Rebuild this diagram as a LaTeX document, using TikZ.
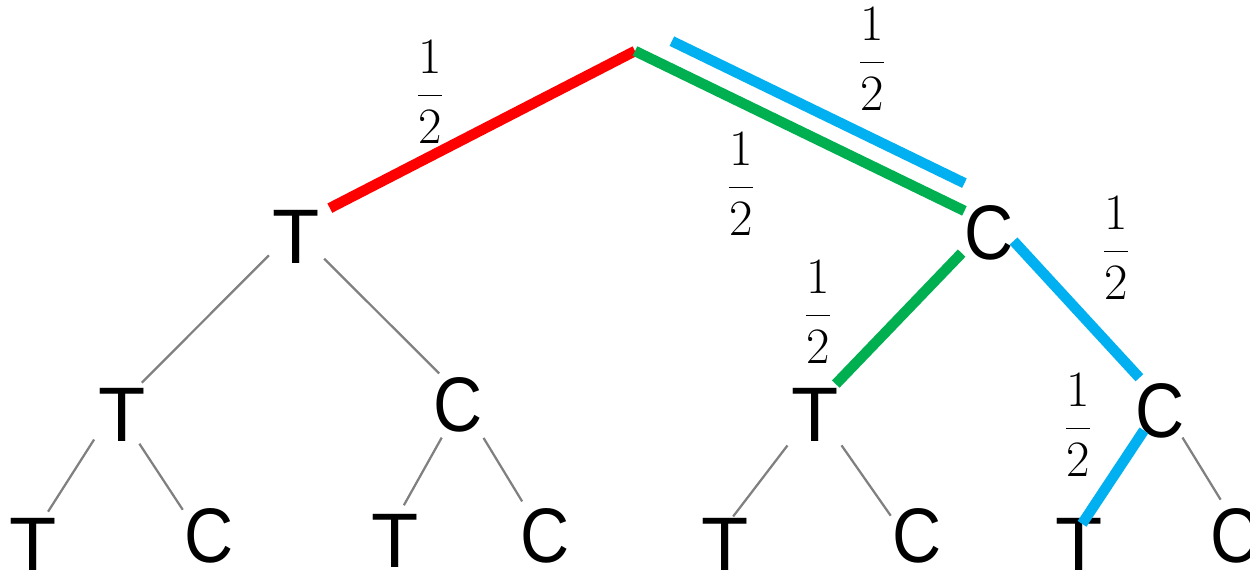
\RequirePackage{fix-cm}
\documentclass[tikz,border=0pt]{standalone}
\usepackage{fontspec}
\newfontfamily\letterfont{Liberation Sans}
\definecolor{tred}{RGB}{255,0,0}
\definecolor{tgreen}{RGB}{0,176,80}
\definecolor{tblue}{RGB}{0,176,240}
\newcommand{\narrowC}{\scalebox{0.88}[1]{C}}
\begin{document}
\begin{tikzpicture}[x=0.02cm,y=-0.02cm,
  lt/.style={font=\letterfont\fontsize{44}{48}\selectfont, inner sep=0pt, outer sep=0pt},
  fr/.style={font=\fontsize{29}{34}\selectfont, inner sep=0pt},
  grayedge/.style={draw=black!50, line width=0.045cm},
  coloredge/.style={line width=0.21cm}]
\useasboundingbox (0,0) rectangle (1250,569);
\coordinate (root) at (635,51);
\node[lt] (T1) at (296,237) {T};
\node[lt] (C1) at (989,233) {\narrowC};
\node[lt] (T2a) at (122,415) {T};
\node[lt] (C2a) at (458,405) {\narrowC};
\node[lt] (T2b) at (815,415) {T};
\node[lt] (C2b) at (1160,411) {\narrowC};
\node[lt] (T3a) at (33,545) {T};
\node[lt] (C3a) at (209,536) {\narrowC};
\node[lt] (T3b) at (395,541) {T};
\node[lt] (C3b) at (545,536) {\narrowC};
\node[lt] (T3c) at (725,545) {T};
\node[lt] (C3c) at (917,536) {\narrowC};
\node[lt] (T3d) at (1079,545) {T};
\node[lt] (C3d) at (1235,536) {\narrowC};
% gray edges
\draw[grayedge, shorten <=0.10cm, shorten >=0.16cm] (T1.212.7) -- (T2a.62.8);
\draw[grayedge, shorten <=0.13cm, shorten >=0.12cm] (T1.324) -- (C2a.118.6);
\draw[grayedge, shorten <=0.16cm, shorten >=0.16cm] (T2a.217.5) -- (T3a.68.2);
\draw[grayedge, shorten <=0.05cm, shorten >=0.06cm] (T2a.301) -- (C3a.136);
\draw[grayedge, shorten <=0.12cm, shorten >=0.21cm] (C2a.244) -- (T3b.82.5);
\draw[grayedge, shorten <=0.13cm, shorten >=0.17cm] (C2a.309) -- (C3b.124.8);
\draw[grayedge, shorten <=0.13cm, shorten >=0.05cm] (T2b.227) -- (T3c.76.9);
\draw[grayedge, shorten <=0.10cm, shorten >=0.06cm] (T2b.312) -- (C3c.144);
\draw[grayedge, shorten <=-0.02cm, shorten >=0.21cm] (C2b.310.4) -- (C3d.108.4);
% coloured edges
\draw[coloredge, tred, shorten >=0.23cm] (root) -- (T1.45);
\draw[coloredge, tgreen] (root) -- (C1.138);
\draw[coloredge, tblue, transform canvas={shift={(10.8,-22.5)}}, shorten <=0.58cm, shorten >=0.24cm] (root) -- (C1.138);
\draw[coloredge, tgreen, shorten <=0.08cm, shorten >=0.12cm] (C1.215.4) -- (T2b.58.8);
\draw[coloredge, tblue, shorten >=0.16cm] (C1.342.2) -- (C2b.119);
\draw[coloredge, tblue, shorten <=-0.19cm, shorten >=-0.13cm] (C2b.232.3) -- (T3d.76);
% labels
\node[fr] (h1) at (430,92) {$\displaystyle\frac{1}{2}$};
\node[fr] (h2) at (872,59) {$\displaystyle\frac{1}{2}$};
\node[fr] (h3) at (741,184) {$\displaystyle\frac{1}{2}$};
\node[fr] (h4) at (1116,248) {$\displaystyle\frac{1}{2}$};
\node[fr] (h5) at (818,312) {$\displaystyle\frac{1}{2}$};
\node[fr] (h6) at (1078,425) {$\displaystyle\frac{1}{2}$};
\end{tikzpicture}
\end{document}
